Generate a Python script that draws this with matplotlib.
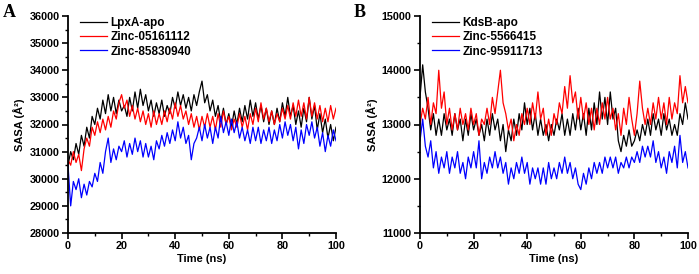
import numpy as np
import matplotlib
matplotlib.use('Agg')
from matplotlib import pyplot as plt
from matplotlib.ticker import MultipleLocator

# time axis (ns), values read every 1 ns
time = np.arange(0, 101, 1)

# panel A: LpxA
lpxa_apo = [30500, 31000, 30700, 31300, 30900, 31600, 31200, 31900, 31500, 32300,
            32000, 32600, 32200, 32900, 32400, 33100, 32500, 33000, 32400, 32900,
            32500, 32700, 32300, 33000, 32500, 33200, 32600, 33300, 32700, 33100,
            32500, 32900, 32300, 32800, 32400, 32900, 32300, 32700, 32400, 33000,
            32600, 33200, 32700, 33100, 32600, 33000, 32500, 33100, 32700, 33200,
            33600, 32800, 33100, 32500, 32900, 32300, 32700, 32100, 32600, 32000,
            32400, 31900, 32500, 32000, 32600, 32100, 32700, 32200, 32900, 32300,
            32800, 32200, 32700, 32100, 32600, 32000, 32500, 32000, 32600, 32100,
            32800, 32300, 33000, 32300, 32700, 32000, 32500, 31900, 32600, 32100,
            33000, 32200, 32700, 31800, 32400, 31700, 32200, 31500, 32000, 31400,
            31900]
zinc_05161112 = [30700, 30500, 31000, 30600, 30900, 30300, 31100, 31500, 31200, 31900,
                 31600, 32100, 31700, 32200, 31800, 32300, 31900, 32500, 32200, 32800,
                 33100, 32600, 32900, 32300, 32700, 32200, 32600, 32100, 32500, 32000,
                 32400, 31900, 32500, 32000, 32400, 32000, 32500, 32100, 32600, 32200,
                 32800, 32300, 32700, 32200, 32500, 32000, 32400, 31900, 32300, 31800,
                 32300, 31900, 32400, 31900, 32300, 31800, 32400, 31900, 32500, 32000,
                 32300, 31800, 32200, 31900, 32400, 31900, 32300, 31800, 32400, 32000,
                 32600, 32100, 32800, 32200, 32600, 32100, 32500, 32000, 32400, 32100,
                 32600, 32200, 32700, 32200, 32800, 32300, 32900, 32300, 32800, 32200,
                 33000, 32300, 32800, 32200, 32700, 32100, 32600, 32100, 32700, 32200,
                 32600]
zinc_85830940 = [30500, 29000, 29900, 29600, 30000, 29300, 29800, 29400, 29900, 29700,
                 30200, 29900, 30600, 30200, 31000, 31500, 30600, 31100, 30700, 31200,
                 31000, 31400, 30800, 31300, 30900, 31500, 31000, 31400, 30800, 31300,
                 30800, 31200, 30700, 31400, 31100, 31600, 31200, 31700, 31300, 31800,
                 31400, 32100, 31500, 31900, 31300, 31600, 30700, 31300, 31500, 31900,
                 31400, 32000, 31500, 31900, 31300, 31900, 31500, 32300, 31700, 32100,
                 31600, 32200, 31700, 32100, 31500, 31900, 31400, 31800, 31300, 31900,
                 31400, 31900, 31300, 31800, 31400, 31900, 31300, 31800, 31400, 32000,
                 31500, 32100, 31600, 32000, 31400, 31900, 31100, 31800, 31300, 32000,
                 31600, 32100, 31500, 31900, 31200, 31700, 31000, 31600, 31200, 31800,
                 31400]

# panel B: KdsB
kdsb_apo = [13500, 14100, 13600, 13300, 12900, 13200, 12800, 13100, 12800, 13200,
            12900, 13100, 12800, 13200, 12900, 13100, 12700, 13100, 12800, 13200,
            12900, 13100, 12800, 13000, 12700, 13100, 12800, 13200, 12900, 13100,
            12700, 13000, 12500, 12900, 12700, 13100, 12800, 13200, 12900, 13400,
            13000, 13300, 12900, 13200, 12800, 13100, 12800, 13000, 12700, 13000,
            12800, 13100, 12900, 13200, 12800, 13100, 12800, 13200, 12900, 13300,
            12900, 13200, 12800, 13300, 12900, 13400, 13000, 13600, 13100, 13500,
            13000, 13600, 13100, 13300, 12700, 12500, 12800, 12600, 12900, 12600,
            12700, 12900, 12700, 13000, 12800, 13100, 12800, 13200, 12900, 13100,
            12800, 13200, 12900, 13100, 12800, 13000, 12800, 13200, 13000, 13400,
            13100]
zinc_5566415 = [13000, 13300, 13100, 13500, 13000, 13400, 13200, 14000, 13300, 13600,
                13000, 13300, 12900, 13200, 12900, 13300, 13000, 13200, 12900, 13300,
                13000, 13200, 12800, 13100, 13000, 13300, 13000, 13500, 13200, 13600,
                14000, 13400, 13200, 12900, 13100, 12700, 13000, 12800, 13200, 13000,
                13300, 13000, 13400, 13100, 13600, 13100, 13300, 12800, 13100, 12800,
                13200, 13000, 13400, 13200, 13700, 13300, 13900, 13400, 13600, 13100,
                13500, 13100, 13400, 13000, 13300, 12900, 13300, 13000, 13400, 13100,
                13500, 13100, 13300, 12900, 13200, 12800, 13300, 13000, 13500, 13100,
                12800, 13200, 13800, 13300, 13000, 13300, 13000, 13400, 13100, 13500,
                13100, 13400, 13000, 13500, 13100, 13400, 13200, 13900, 13400, 13700,
                13400]
zinc_95911713 = [12700, 13100, 12600, 12400, 12700, 12200, 12500, 12100, 12400, 12200,
                 12500, 12100, 12400, 12200, 12500, 12100, 12300, 12000, 12400, 12200,
                 12500, 12200, 12700, 12000, 12300, 12100, 12400, 12200, 12500, 12200,
                 12400, 12100, 12300, 11900, 12200, 12000, 12300, 12100, 12400, 12100,
                 12300, 11900, 12200, 12000, 12200, 11900, 12200, 11900, 12300, 12000,
                 12200, 12000, 12300, 12100, 12400, 12100, 12300, 12000, 12200, 11900,
                 11800, 12100, 11900, 12200, 12000, 12300, 12100, 12300, 12100, 12400,
                 12200, 12400, 12200, 12400, 12100, 12300, 12200, 12400, 12200, 12400,
                 12300, 12500, 12300, 12600, 12400, 12600, 12400, 12700, 12300, 12500,
                 12200, 12400, 12100, 12500, 12300, 12600, 12200, 12800, 12300, 12500,
                 12200]

plt.rcParams['font.family'] = 'Liberation Sans'
plt.rcParams['font.weight'] = 'bold'


def style_axis(ax, ylim, ymajor, yminor):
    ax.set_xlim(0, 100)
    ax.set_ylim(*ylim)
    ax.xaxis.set_major_locator(MultipleLocator(20))
    ax.xaxis.set_minor_locator(MultipleLocator(10))
    ax.yaxis.set_major_locator(MultipleLocator(ymajor))
    ax.yaxis.set_minor_locator(MultipleLocator(yminor))
    for side in ['top', 'right']:
        ax.spines[side].set_visible(False)
    for side in ['left', 'bottom']:
        ax.spines[side].set_linewidth(1.3)
    ax.tick_params(which='major', direction='out', length=4, width=1.2, labelsize=7.8, pad=2)
    ax.tick_params(which='minor', direction='out', length=2.5, width=1.0)
    for lab in ax.get_xticklabels() + ax.get_yticklabels():
        lab.set_fontweight('bold')
    ax.set_xlabel('Time (ns)', fontsize=8, fontweight='bold', labelpad=2)
    ax.set_ylabel('SASA (Å²)', fontsize=8, fontweight='bold', labelpad=3)
    leg = ax.legend(loc='upper left', frameon=False, fontsize=8.5, handlelength=2.3,
                    handletextpad=0.3, labelspacing=0.2, borderaxespad=0,
                    bbox_to_anchor=(0.027, 1.018))
    for txt in leg.get_texts():
        txt.set_fontweight('bold')


fig = plt.figure(figsize=(6.99, 2.74), dpi=100)
ax1 = fig.add_axes((68 / 699, 41 / 274, 268 / 699, 217 / 274))
ax2 = fig.add_axes((420 / 699, 41 / 274, 268 / 699, 217 / 274))

ax1.plot(time, lpxa_apo, color='black', lw=0.9, label='LpxA-apo')
ax1.plot(time, zinc_05161112, color='red', lw=0.9, label='Zinc-05161112')
ax1.plot(time, zinc_85830940, color='blue', lw=0.9, label='Zinc-85830940')
style_axis(ax1, (28000, 36000), 1000, 500)

ax2.plot(time, kdsb_apo, color='black', lw=0.9, label='KdsB-apo')
ax2.plot(time, zinc_5566415, color='red', lw=0.9, label='Zinc-5566415')
ax2.plot(time, zinc_95911713, color='blue', lw=0.9, label='Zinc-95911713')
style_axis(ax2, (11000, 15000), 1000, 500)

fig.text(3 / 699, 1 - 4 / 274, 'A', family='Liberation Serif', fontsize=13,
         fontweight='bold', va='top', ha='left')
fig.text(354 / 699, 1 - 4 / 274, 'B', family='Liberation Serif', fontsize=13,
         fontweight='bold', va='top', ha='left')

plt.savefig('out.png', dpi=100)
